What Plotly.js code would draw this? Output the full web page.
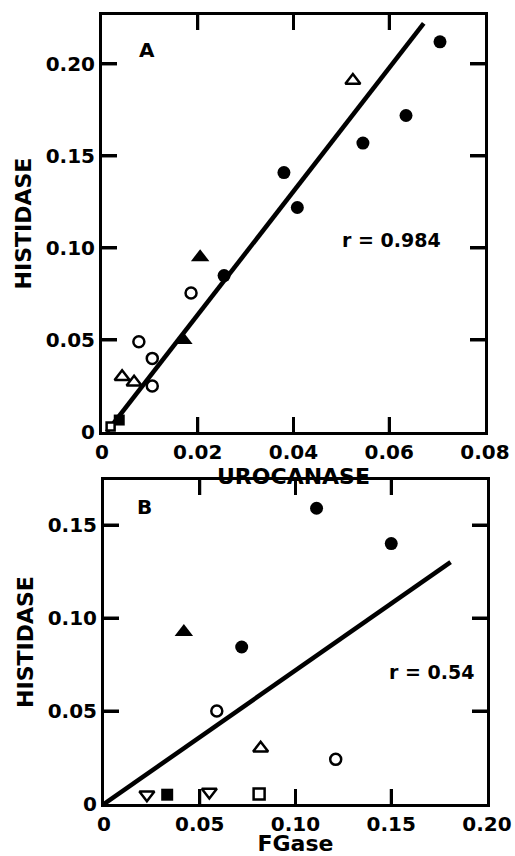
<!DOCTYPE html>
<html>
<head>
<meta charset="utf-8">
<script src="https://cdn.plot.ly/plotly-3.0.1.min.js"></script>
<style>html,body{margin:0;padding:0;background:#fff;}#chart{width:515px;height:856px;}</style>
</head>
<body>
<div id="chart"></div>
<script>
// ---------- Panel A: Histidase vs Urocanase ----------
const filledCirclesA_x = [0.0255, 0.0380, 0.0408, 0.0545, 0.0635, 0.0706];
const filledCirclesA_y = [0.085, 0.141, 0.122, 0.157, 0.172, 0.212];
const openCirclesA_x = [0.0077, 0.0105, 0.0105, 0.0186];
const openCirclesA_y = [0.049, 0.040, 0.025, 0.0755];
const openTrianglesA_x = [0.0042, 0.0067, 0.0524];
const openTrianglesA_y = [0.030, 0.027, 0.191];
const filledTrianglesA_x = [0.0170, 0.0205];
const filledTrianglesA_y = [0.050, 0.095];
const filledSquaresA_x = [0.0036];
const filledSquaresA_y = [0.0065];
const openSquaresA_x = [0.0018];
const openSquaresA_y = [0.003];
const fitA_x = [0.001, 0.0672];
const fitA_y = [0.0, 0.222];
const rA = "r = 0.984";

// ---------- Panel B: Histidase vs FGase ----------
const filledCirclesB_x = [0.0719, 0.111, 0.150];
const filledCirclesB_y = [0.0844, 0.159, 0.140];
const filledTrianglesB_x = [0.0417];
const filledTrianglesB_y = [0.0925];
const openCirclesB_x = [0.0589, 0.121];
const openCirclesB_y = [0.050, 0.024];
const openTrianglesB_x = [0.0818];
const openTrianglesB_y = [0.030];
const invTrianglesB_x = [0.0224, 0.055];
const invTrianglesB_y = [0.005, 0.0065];
const filledSquaresB_x = [0.033];
const filledSquaresB_y = [0.005];
const openSquaresB_x = [0.081];
const openSquaresB_y = [0.0054];
const fitB_x = [0.0, 0.181];
const fitB_y = [0.0, 0.130];
const rB = "r = 0.54";

// ---------- Axes ticks ----------
const xTicksA = [0, 0.02, 0.04, 0.06, 0.08];
const xTickTextA = ["0", "0.02", "0.04", "0.06", "0.08"];
const yTicksA = [0, 0.05, 0.10, 0.15, 0.20];
const yTickTextA = ["0", "0.05", "0.10", "0.15", "0.20"];
const xTicksB = [0, 0.05, 0.10, 0.15, 0.20];
const xTickTextB = ["0", "0.05", "0.10", "0.15", "0.20"];
const yTicksB = [0, 0.05, 0.10, 0.15];
const yTickTextB = ["0", "0.05", "0.10", "0.15"];
const xRangeA = [0, 0.08], yRangeA = [0, 0.2266];
const xRangeB = [0, 0.20], yRangeB = [0, 0.1742];

const FONT = "DejaVu Sans";
const K = "#000";

function pts(x, y, sym, size, filled, xa, ya) {
  return {
    type: "scatter", mode: "markers", x: x, y: y, xaxis: xa, yaxis: ya,
    cliponaxis: false,
    marker: {
      symbol: sym, size: size,
      color: filled ? K : "#fff",
      line: {color: K, width: filled ? 0 : 2.5}
    }
  };
}
function fit(x, y, xa, ya) {
  return {type: "scatter", mode: "lines", x: x, y: y, xaxis: xa, yaxis: ya,
    line: {color: K, width: 4.5}};
}

const data = [
  fit(fitA_x, fitA_y, "x", "y"),
  pts(filledCirclesA_x, filledCirclesA_y, "circle", 13, true, "x", "y"),
  pts(openCirclesA_x, openCirclesA_y, "circle", 11, false, "x", "y"),
  pts(openTrianglesA_x, openTrianglesA_y, "triangle-up", 13, false, "x", "y"),
  pts(filledTrianglesA_x, filledTrianglesA_y, "triangle-up", 16, true, "x", "y"),
  pts(filledSquaresA_x, filledSquaresA_y, "square", 11, true, "x", "y"),
  pts(openSquaresA_x, openSquaresA_y, "square", 8, false, "x", "y"),

  fit(fitB_x, fitB_y, "x2", "y2"),
  pts(filledCirclesB_x, filledCirclesB_y, "circle", 13, true, "x2", "y2"),
  pts(filledTrianglesB_x, filledTrianglesB_y, "triangle-up", 16, true, "x2", "y2"),
  pts(openCirclesB_x, openCirclesB_y, "circle", 11, false, "x2", "y2"),
  pts(openTrianglesB_x, openTrianglesB_y, "triangle-up", 13, false, "x2", "y2"),
  pts(invTrianglesB_x, invTrianglesB_y, "triangle-down", 13, false, "x2", "y2"),
  pts(filledSquaresB_x, filledSquaresB_y, "square", 12, true, "x2", "y2"),
  pts(openSquaresB_x, openSquaresB_y, "square", 11, false, "x2", "y2")
];

function ax(extra) {
  return Object.assign({
    showline: true, linecolor: K, linewidth: 3, mirror: "ticks",
    ticks: "inside", ticklen: 15, tickwidth: 3, tickcolor: K,
    showgrid: false, zeroline: false, tickmode: "array",
    tickfont: {family: FONT, size: 20, color: K, weight: "bold"},
    automargin: false, fixedrange: true
  }, extra);
}
const titleFont = {family: FONT, size: 22, color: K, weight: "bold"};

// Inward tick marks on all four sides, placed through the axes' own scales
const TICKPX = 15;
function tickShapes(xv, xr, yv, yr, xa, ya, wpx, hpx) {
  const s = [];
  const fx = TICKPX / hpx, fy = TICKPX / wpx;
  const ln = {color: K, width: 3};
  xv.filter(v => v > xr[0] && v < xr[1]).forEach(v => {
    s.push({type: "line", xref: xa, yref: ya + " domain", x0: v, x1: v, y0: 0, y1: fx, line: ln, layer: "above"});
    s.push({type: "line", xref: xa, yref: ya + " domain", x0: v, x1: v, y0: 1, y1: 1 - fx, line: ln, layer: "above"});
  });
  yv.filter(v => v > yr[0] && v < yr[1]).forEach(v => {
    s.push({type: "line", xref: xa + " domain", yref: ya, x0: 0, x1: fy, y0: v, y1: v, line: ln, layer: "above"});
    s.push({type: "line", xref: xa + " domain", yref: ya, x0: 1, x1: 1 - fy, y0: v, y1: v, line: ln, layer: "above"});
  });
  return s;
}

const domXA = [102/515, 485/515], domYA = [1 - 432/856, 1 - 15/856];
const domXB = [104/515, 487/515], domYB = [1 - 804/856, 1 - 480/856];

const layout = {
  width: 515, height: 856,
  margin: {l: 0, r: 0, t: 0, b: 0},
  paper_bgcolor: "#fff", plot_bgcolor: "rgba(0,0,0,0)",
  showlegend: false,
  xaxis: ax({domain: domXA, range: xRangeA, anchor: "y",
    tickvals: xTicksA, ticktext: xTickTextA,
    title: {text: "UROCANASE", font: titleFont, standoff: 0}}),
  yaxis: ax({domain: domYA, range: yRangeA, anchor: "x",
    tickvals: yTicksA, ticktext: yTickTextA,
    title: {text: "HISTIDASE", font: titleFont, standoff: 8}}),
  xaxis2: ax({domain: domXB, range: xRangeB, anchor: "y2",
    tickvals: xTicksB, ticktext: xTickTextB,
    title: {text: "FGase", font: titleFont, standoff: 13}}),
  yaxis2: ax({domain: domYB, range: yRangeB, anchor: "x2",
    tickvals: yTicksB, ticktext: yTickTextB,
    title: {text: "HISTIDASE", font: titleFont, standoff: 8}}),
  shapes: tickShapes(xTicksA, xRangeA, yTicksA, yRangeA, "x", "y", 383, 417)
    .concat(tickShapes(xTicksB, xRangeB, yTicksB, yRangeB, "x2", "y2", 383, 324)),
  annotations: [
    {xref: "x", yref: "y", x: 0.0094, y: 0.2076, text: "A", showarrow: false,
     font: {family: FONT, size: 20, color: K, weight: "bold"}},
    {xref: "x", yref: "y", x: 0.0605, y: 0.1043, text: rA, showarrow: false,
     font: {family: FONT, size: 19, color: K, weight: "bold"}},
    {xref: "x2", yref: "y2", x: 0.0214, y: 0.1597, text: "B", showarrow: false,
     font: {family: FONT, size: 20, color: K, weight: "bold"}},
    {xref: "x2", yref: "y2", x: 0.171, y: 0.071, text: rB, showarrow: false,
     font: {family: FONT, size: 19, color: K, weight: "bold"}}
  ]
};

Plotly.newPlot("chart", data, layout, {displayModeBar: false, staticPlot: true});
</script>
</body>
</html>
